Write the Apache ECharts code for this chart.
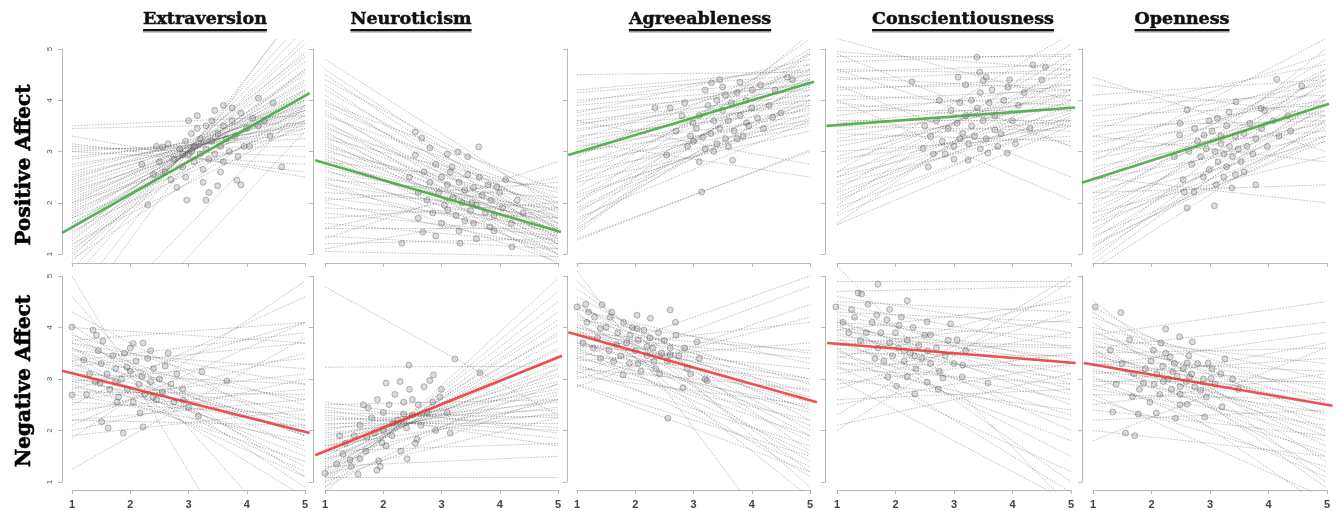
<!DOCTYPE html>
<html><head><meta charset="utf-8">
<script src="https://cdn.jsdelivr.net/npm/echarts@6/dist/echarts.min.js"></script>
<style>html,body{margin:0;padding:0;background:#fff}#c{width:1336px;height:511px}</style>
</head><body><div id="c"></div>
<script>
const traits = ['Extraversion','Neuroticism','Agreeableness','Conscientiousness','Openness'];
const rowLabels = ['Positive Affect','Negative Affect'];
const xTicks = [1,2,3,4,5];
const yTicks = [1,2,3,4,5];

// ---- Positive Affect: individual slopes [y at x=1, y at x=5] ----
const paExtLines = [[0.5,5.6],[0.7,5.4],[0.85,5.2],[0.95,5.1],[1.05,4.95],[1.15,4.85],[1.25,4.75],[1.3,4.6],[1.4,4.55],[1.5,4.5],[1.55,4.4],[1.6,4.3],[1.7,4.35],[1.75,4.2],[1.8,4.15],[1.9,4.1],[1.95,4.05],[2.0,4.2],[2.05,3.95],[2.1,3.9],[2.15,4.0],[2.2,3.85],[2.3,3.8],[2.35,3.9],[2.4,3.75],[2.5,3.7],[2.55,3.6],[2.6,3.8],[2.7,3.55],[2.75,3.45],[2.85,3.5],[2.9,3.35],[3.0,3.25],[3.05,3.1],[3.1,2.9],[3.0,2.75],[3.15,2.6],[3.3,2.5],[3.45,3.55],[3.5,3.7],[0.9,3.9],[1.2,3.55],[1.1,4.2],[1.45,3.7],[1.7,3.6],[2.0,3.45],[-0.3,6.0],[0.1,5.9],[-1.5,3.4],[-0.8,3.9],[1.35,4.9],[1.0,4.6],[1.6,4.0],[2.25,3.6],[2.45,4.0],[1.85,3.8]];
const paNeuLines = [[4.8,1.9],[4.6,1.6],[4.4,2.0],[4.3,1.3],[4.2,1.7],[4.1,1.2],[4.0,1.5],[3.9,1.8],[3.8,1.1],[3.75,1.4],[3.7,2.1],[3.6,1.0],[3.55,1.6],[3.5,1.3],[3.45,1.9],[3.4,0.8],[3.35,1.5],[3.3,1.2],[3.25,2.2],[3.2,1.0],[3.1,1.7],[3.05,1.35],[3.0,2.0],[2.95,0.9],[2.9,1.55],[2.85,1.2],[2.8,2.3],[2.7,1.6],[2.65,1.0],[2.6,1.85],[2.5,1.4],[2.45,2.1],[2.4,0.85],[2.35,1.7],[2.3,1.25],[2.2,1.9],[2.1,1.5],[2.05,2.4],[2.0,1.1],[1.9,1.7],[1.8,1.35],[1.7,2.0],[1.6,1.2],[1.5,1.5],[1.35,1.1],[1.2,1.3],[1.05,0.95],[1.3,2.8],[1.5,2.5],[1.1,1.9],[4.5,1.45],[3.95,2.25],[3.15,1.45],[2.75,1.75]];
const paAgrLines = [[4.5,4.55],[4.2,4.6],[4.15,4.5],[4.0,4.4],[3.95,4.7],[3.9,4.3],[3.8,4.2],[3.75,4.8],[3.7,4.35],[3.6,4.1],[3.55,4.0],[3.5,4.5],[3.45,3.9],[3.4,4.25],[3.3,3.8],[3.25,4.6],[3.2,4.0],[3.1,3.7],[3.05,4.4],[3.0,3.6],[2.95,4.1],[2.9,4.9],[2.8,3.55],[2.75,4.2],[2.7,3.85],[2.6,3.5],[2.5,4.7],[2.45,3.95],[2.4,3.4],[2.3,5.0],[2.2,4.3],[2.1,3.75],[2.0,5.2],[1.9,4.0],[1.8,4.6],[1.7,3.6],[1.55,5.3],[1.4,4.9],[1.3,3.0],[1.45,4.95],[3.2,2.5],[3.6,2.75],[1.27,3.03],[1.5,4.4],[1.65,4.1],[1.85,3.9],[2.0,4.45],[2.15,3.65]];
const paConLines = [[5.2,4.0],[4.9,3.1],[4.85,4.85],[4.75,4.9],[4.6,4.5],[4.55,4.7],[4.45,4.2],[4.4,4.6],[4.25,4.3],[4.2,4.45],[4.1,3.9],[4.0,4.2],[3.95,3.5],[3.85,4.1],[3.8,3.8],[3.7,4.3],[3.6,3.6],[3.55,4.0],[3.5,3.4],[3.4,3.85],[3.35,3.2],[3.25,4.1],[3.2,3.6],[3.1,3.95],[3.0,3.3],[2.9,4.2],[2.85,3.5],[2.75,4.4],[2.6,3.8],[2.5,4.6],[2.4,4.0],[2.25,4.9],[2.1,4.2],[1.95,5.1],[1.8,4.5],[1.6,4.8],[4.3,2.5],[4.0,2.05],[4.6,3.1],[2.6,5.3],[4.95,4.6],[1.57,3.5],[1.75,3.7],[1.9,3.6],[2.05,3.9],[2.2,3.75],[2.35,3.55],[2.5,3.65]];
const paOpeLines = [[4.45,3.0],[4.3,3.7],[4.1,4.4],[3.9,4.1],[3.8,4.7],[3.7,3.9],[3.55,4.3],[3.5,3.6],[3.4,4.9],[3.3,4.0],[3.2,3.7],[3.1,4.5],[3.0,3.4],[2.95,4.2],[2.85,3.8],[2.8,5.2],[2.7,3.55],[2.6,4.4],[2.55,3.9],[2.45,3.3],[2.4,4.6],[2.3,4.0],[2.2,3.6],[2.1,4.3],[2.05,3.2],[1.95,4.8],[1.9,3.8],[1.8,4.1],[1.7,3.45],[1.6,4.5],[1.5,3.7],[1.4,5.0],[1.3,4.0],[1.2,3.3],[1.1,4.6],[1.0,3.9],[0.9,4.4],[2.5,2.0],[2.2,2.35],[3.3,2.8],[1.8,2.9],[0.7,3.6],[0.8,4.1],[1.15,3.5],[1.35,3.2],[1.6,3.3]];

// ---- Negative Affect: individual slopes ----
const naExtLines = [[5.0,-2.6],[4.6,-0.5],[4.05,1.1],[4.0,3.7],[3.9,0.9],[3.8,1.6],[3.75,4.1],[3.7,2.2],[3.6,1.3],[3.55,3.2],[3.5,0.7],[3.45,1.9],[3.4,2.6],[3.3,1.5],[3.25,3.7],[3.2,2.1],[3.15,1.1],[3.1,2.9],[3.05,1.7],[3.0,2.4],[2.95,3.4],[2.9,1.4],[2.85,2.05],[2.8,4.1],[2.75,2.7],[2.7,1.8],[2.6,3.1],[2.55,2.3],[2.5,4.6],[2.4,2.8],[2.3,3.5],[2.2,2.1],[2.1,4.1],[2.0,3.0],[1.9,2.4],[1.85,4.9],[1.25,3.8],[2.2,2.6],[3.35,3.9],[3.7,2.9],[4.3,1.9],[3.85,2.5],[3.6,1.9],[2.95,2.2],[3.35,1.2]];
const naNeuLines = [[0.8,4.95],[0.9,4.7],[1.0,4.5],[1.05,4.3],[1.1,4.15],[1.15,3.9],[1.2,4.05],[1.25,3.75],[1.3,3.6],[1.35,3.85],[1.4,3.45],[1.45,3.3],[1.5,3.55],[1.55,3.2],[1.6,3.05],[1.65,3.4],[1.7,2.9],[1.75,3.1],[1.8,2.75],[1.85,2.95],[1.9,2.6],[1.95,2.45],[2.0,2.8],[2.05,2.3],[2.1,2.55],[2.15,2.15],[2.2,2.4],[2.25,2.0],[2.3,1.85],[2.35,2.25],[2.4,1.7],[2.45,2.05],[2.5,2.6],[2.55,1.95],[1.1,1.1],[1.3,1.5],[1.6,1.75],[0.9,3.2],[1.0,2.7],[1.15,2.25],[4.79,2.3],[3.23,3.25],[1.25,2.9],[1.45,2.6],[1.7,2.35]];
const naAgrLines = [[5.1,-1.0],[4.9,0.9],[4.75,1.6],[4.6,2.2],[4.5,1.2],[4.4,2.6],[4.35,3.3],[4.3,0.7],[4.25,1.9],[4.2,2.9],[4.15,3.5],[4.1,1.4],[4.05,2.4],[4.0,3.0],[3.95,1.8],[3.9,2.75],[3.85,3.4],[3.8,1.1],[3.75,2.1],[3.7,2.55],[3.65,3.2],[3.6,1.55],[3.55,2.35],[3.5,2.95],[3.45,1.9],[3.4,2.45],[3.35,3.7],[3.3,1.3],[3.25,2.2],[3.2,2.8],[3.15,1.7],[3.1,4.8],[3.05,2.5],[3.0,4.2],[2.9,1.5],[2.85,4.45],[3.6,4.1],[3.9,3.55],[3.4,5.0],[2.88,1.2],[4.45,2.0],[4.0,2.65],[3.7,3.0]];
const naConLines = [[5.2,0.5],[4.9,4.9],[4.7,4.8],[4.6,3.9],[4.5,4.3],[4.45,3.6],[4.4,2.9],[4.3,4.1],[4.25,3.3],[4.2,1.0],[4.15,2.5],[4.1,3.8],[4.05,2.0],[4.0,3.4],[3.95,4.5],[3.9,2.7],[3.85,3.1],[3.8,1.5],[3.75,3.65],[3.7,2.3],[3.65,4.15],[3.6,3.0],[3.55,1.8],[3.5,3.45],[3.45,2.6],[3.4,4.6],[3.35,2.2],[3.3,3.25],[3.25,1.2],[3.2,2.9],[3.1,3.9],[3.0,2.4],[2.9,3.5],[2.8,4.3],[2.6,2.8],[2.5,3.3],[2.3,5.0],[2.0,4.9],[2.1,3.1],[3.6,0.8],[3.0,0.6],[3.95,3.3],[3.7,3.6],[4.1,2.8]];
const naOpeLines = [[4.53,1.0],[4.4,2.0],[4.3,1.4],[4.2,2.6],[4.1,0.9],[4.0,3.0],[3.95,1.7],[3.9,2.3],[3.85,4.5],[3.8,3.3],[3.7,1.2],[3.65,2.8],[3.6,4.1],[3.55,2.0],[3.5,3.6],[3.45,2.5],[3.4,1.5],[3.35,3.15],[3.3,2.2],[3.25,3.9],[3.2,1.8],[3.15,2.7],[3.1,3.4],[3.05,1.1],[3.0,2.35],[2.95,2.95],[2.9,1.6],[2.85,3.7],[2.8,2.1],[2.7,2.6],[2.6,1.3],[2.5,3.1],[2.4,1.9],[2.2,2.4],[2.0,1.5],[1.8,3.6],[2.7,0.7],[3.6,0.5],[3.75,2.55],[3.3,2.9],[3.5,1.9]];

// ---- Observed person means [trait, affect] ----
const paExtPoints = [[2.56,3.09],[4.6,2.7],[4.45,3.95],[4.2,4.04],[2.3,1.96],[2.97,2.05],[3.3,2.05],[3.5,2.33],[3.9,2.35],[3.83,2.44],[2.6,2.6],[2.75,2.85],[2.85,3.05],[2.9,2.7],[2.95,3.2],[3.0,2.95],[3.05,3.35],[3.1,2.8],[3.1,3.1],[3.15,3.45],[3.2,2.95],[3.2,3.25],[3.25,2.65],[3.3,3.05],[3.3,3.5],[3.35,2.85],[3.4,3.2],[3.4,3.6],[3.45,2.95],[3.5,3.35],[3.55,3.1],[3.6,2.8],[3.6,3.5],[3.65,3.25],[3.7,3.0],[3.75,3.6],[3.8,3.3],[3.85,2.9],[3.9,3.75],[4.0,3.45],[4.05,3.1],[4.1,3.65],[4.3,3.6],[4.4,3.3],[2.5,2.8],[2.4,2.55],[2.65,3.15],[2.7,2.45],[2.8,2.3],[2.95,2.5],[3.0,3.6],[3.15,3.7],[3.45,3.8],[2.45,3.1],[2.2,2.75],[3.25,2.4],[3.55,2.6],[3.35,2.2],[2.9,2.95],[3.05,3.0],[3.6,3.9],[3.95,3.1],[4.2,3.5],[3.75,3.85]];
const paNeuPoints = [[2.55,3.38],[2.66,3.26],[3.64,3.09],[3.28,2.99],[2.8,3.07],[2.32,1.21],[2.68,1.43],[3.32,1.21],[4.21,1.14],[2.6,1.7],[3.83,1.53],[3.95,2.31],[3.52,2.0],[3.11,1.86],[3.18,2.7],[2.55,2.93],[2.7,2.6],[2.8,2.4],[2.9,2.75],[2.95,2.2],[3.0,2.5],[3.05,1.95],[3.1,2.35],[3.15,2.6],[3.2,2.1],[3.25,1.75],[3.3,2.4],[3.35,2.0],[3.4,2.25],[3.4,1.65],[3.45,2.55],[3.5,1.85],[3.55,2.3],[3.6,1.95],[3.65,2.5],[3.7,2.15],[3.75,1.8],[3.8,2.35],[3.85,2.05],[3.9,1.75],[4.0,2.2],[4.05,1.9],[4.1,2.45],[4.2,1.6],[4.3,2.05],[2.75,2.05],[2.85,1.8],[3.0,1.6],[3.3,1.45],[3.6,1.3],[2.45,2.5],[2.6,2.2],[3.1,2.95],[3.45,2.9],[3.9,1.45],[4.4,1.8],[2.9,1.35],[3.55,1.6]];
const paAgrPoints = [[2.34,3.85],[2.54,2.93],[3.1,2.8],[3.67,2.83],[3.31,4.34],[4.61,4.45],[3.5,4.26],[2.6,3.85],[2.99,3.56],[3.16,3.28],[3.91,3.56],[4.01,4.2],[4.36,3.67],[3.14,2.21],[3.0,3.2],[3.05,3.45],[3.1,3.7],[3.2,3.05],[3.25,3.9],[3.3,3.35],[3.35,3.6],[3.4,4.0],[3.4,3.15],[3.45,3.45],[3.5,3.8],[3.55,4.1],[3.55,3.25],[3.6,3.6],[3.65,3.95],[3.7,3.4],[3.75,4.15],[3.8,3.7],[3.85,3.3],[3.9,4.0],[3.95,3.5],[4.0,3.85],[4.1,3.65],[4.15,4.3],[4.2,3.45],[4.3,3.9],[4.4,4.2],[4.5,3.75],[4.7,4.4],[2.7,3.4],[2.8,3.7],[2.9,3.1],[2.85,3.95],[3.2,4.2],[3.35,3.0],[3.6,3.1],[3.75,3.25],[2.95,3.3],[3.45,4.4],[3.8,4.35]];
const paConPoints = [[3.39,4.84],[3.44,4.55],[3.5,4.38],[3.07,4.45],[2.28,4.36],[4.35,4.69],[4.56,4.65],[4.5,4.4],[2.56,2.7],[3.24,2.83],[3.91,2.97],[3.58,2.97],[2.47,3.06],[3.1,3.25],[3.7,3.42],[3.92,4.26],[2.6,3.3],[2.7,3.6],[2.8,3.2],[2.9,3.45],[2.95,3.8],[3.0,3.1],[3.05,3.55],[3.1,3.95],[3.15,3.35],[3.2,3.7],[3.25,3.15],[3.3,4.0],[3.3,3.5],[3.35,3.3],[3.4,3.85],[3.45,4.15],[3.5,3.6],[3.55,3.25],[3.6,3.95],[3.65,4.2],[3.7,3.7],[3.8,3.35],[3.85,4.0],[4.0,3.6],[4.1,3.9],[4.2,4.15],[4.3,3.45],[2.75,4.0],[2.85,2.95],[3.0,2.85],[3.45,3.05],[3.75,3.1],[4.05,3.15],[3.2,4.3],[3.55,4.45],[2.5,3.5],[3.95,4.4],[2.65,2.95]];
const paOpePoints = [[2.62,3.81],[3.46,3.97],[4.16,4.41],[4.59,4.28],[3.89,3.84],[3.34,3.77],[3.14,3.65],[2.49,3.32],[2.91,3.32],[3.2,3.3],[2.57,2.21],[2.74,2.21],[2.62,1.9],[3.09,1.94],[3.39,2.29],[3.8,2.35],[3.45,2.55],[3.12,2.35],[2.55,2.45],[2.65,3.0],[2.7,2.75],[2.8,3.2],[2.85,2.9],[2.95,3.05],[3.0,2.65],[3.05,3.4],[3.1,3.0],[3.15,2.8],[3.2,3.15],[3.25,2.95],[3.3,3.5],[3.3,2.7],[3.35,3.1],[3.4,2.9],[3.45,3.3],[3.5,3.05],[3.55,2.8],[3.6,3.35],[3.65,3.1],[3.7,3.55],[3.75,2.95],[3.8,3.25],[3.9,3.45],[4.0,3.1],[4.1,3.6],[4.2,3.3],[4.35,3.7],[2.4,2.9],[2.5,3.55],[2.9,2.5],[3.0,3.6],[3.25,2.5],[3.6,2.6],[3.95,3.8],[4.4,3.4],[2.75,3.45]];
const naExtPoints = [[1.0,4.01],[1.36,3.95],[1.42,3.85],[1.53,3.74],[1.0,2.69],[1.48,2.92],[1.62,2.05],[1.51,2.17],[1.88,1.95],[2.22,2.07],[2.17,2.34],[2.22,3.7],[2.05,3.69],[2.65,3.5],[3.23,3.14],[3.66,2.96],[3.17,2.28],[2.91,2.59],[2.39,2.65],[1.77,2.55],[1.75,2.95],[1.94,3.23],[1.2,3.37],[1.5,3.3],[1.6,3.1],[1.65,2.8],[1.7,3.45],[1.75,3.2],[1.8,2.65],[1.85,3.0],[1.9,3.5],[1.95,2.8],[2.0,3.15],[2.05,2.55],[2.1,3.35],[2.15,2.9],[2.2,3.05],[2.25,2.7],[2.3,3.4],[2.35,2.95],[2.4,3.2],[2.45,2.6],[2.5,3.0],[2.55,2.75],[2.6,3.25],[2.7,2.9],[2.75,2.55],[2.8,3.1],[2.9,2.8],[3.0,2.45],[1.3,3.1],[1.4,2.95],[1.25,2.7],[1.45,3.55],[2.0,3.6],[2.35,3.55]];
const naNeuPoints = [[1.0,1.17],[1.31,1.54],[1.43,1.43],[1.57,1.15],[1.89,1.23],[1.92,1.41],[1.74,2.44],[1.66,2.5],[2.05,2.92],[2.29,2.95],[2.44,3.27],[2.41,1.45],[2.58,1.83],[2.86,3.08],[2.8,2.97],[2.97,2.65],[3.23,3.39],[3.15,1.95],[3.66,3.12],[2.17,2.15],[1.98,1.76],[2.35,2.32],[1.72,1.87],[2.0,2.0],[2.5,2.6],[3.1,2.35],[1.5,1.9],[1.6,2.1],[1.7,1.6],[1.8,2.25],[1.85,1.95],[1.9,2.6],[2.0,2.35],[2.05,1.7],[2.1,2.5],[2.15,1.9],[2.2,2.7],[2.25,2.2],[2.3,1.6],[2.35,2.55],[2.4,2.05],[2.45,2.8],[2.5,2.3],[2.55,1.75],[2.6,2.5],[2.65,2.1],[2.7,2.85],[2.75,2.35],[2.85,2.55],[2.9,2.0],[3.0,2.8],[1.35,1.75],[1.45,1.3],[1.25,1.9],[1.2,1.35],[1.6,1.45],[1.95,1.3]];
const naAgrPoints = [[1.0,4.4],[1.43,4.44],[1.57,4.2],[2.03,4.24],[2.26,4.18],[2.6,4.34],[2.69,4.1],[1.79,3.08],[2.05,3.3],[2.42,3.1],[2.82,2.83],[2.56,2.24],[3.23,2.97],[3.06,3.72],[1.68,3.67],[1.91,3.85],[2.2,3.63],[1.4,3.98],[1.28,3.6],[1.63,3.34],[2.32,3.34],[2.6,3.47],[2.89,3.21],[2.03,3.98],[1.17,4.1],[1.3,4.2],[1.35,3.8],[1.5,4.0],[1.55,3.55],[1.6,4.3],[1.7,3.9],[1.75,3.45],[1.8,4.1],[1.85,3.7],[1.9,3.3],[1.95,4.0],[2.0,3.55],[2.05,3.75],[2.1,3.15],[2.15,3.95],[2.2,3.45],[2.25,3.8],[2.3,3.6],[2.35,3.2],[2.4,3.9],[2.45,3.5],[2.5,3.75],[2.55,3.35],[2.6,3.6],[2.7,3.85],[2.75,3.45],[2.85,3.6],[2.95,3.1],[3.1,3.4],[3.2,3.0],[1.1,3.7],[1.2,4.3],[1.4,3.4],[1.15,4.45]];
const naConPoints = [[0.98,4.4],[1.36,4.67],[1.42,4.65],[1.7,4.84],[2.2,4.52],[1.53,4.45],[1.9,4.35],[1.3,4.2],[1.68,4.24],[2.06,4.04],[2.54,4.11],[2.94,4.07],[3.05,3.76],[2.6,3.86],[1.87,3.04],[2.02,2.86],[2.33,2.71],[2.73,2.8],[2.54,2.94],[2.2,3.04],[2.81,3.02],[3.14,3.04],[3.15,3.27],[3.58,2.92],[1.8,3.35],[2.15,3.55],[2.33,3.45],[1.65,3.4],[1.5,3.9],[1.6,4.1],[1.7,3.6],[1.75,3.9],[1.85,4.15],[1.9,3.7],[1.95,3.45],[2.0,3.9],[2.05,3.6],[2.1,4.2],[2.15,3.35],[2.2,3.75],[2.25,3.5],[2.3,4.0],[2.35,3.2],[2.4,3.65],[2.45,3.4],[2.5,3.85],[2.55,3.55],[2.6,3.3],[2.7,3.6],[2.75,3.15],[2.85,3.45],[2.9,3.75],[3.0,3.3],[3.2,3.55],[1.2,3.9],[1.25,4.35],[1.4,3.75],[1.1,4.1]];
const naOpePoints = [[1.04,4.4],[1.48,4.29],[2.25,3.97],[2.49,3.82],[2.71,3.72],[3.27,3.39],[1.34,2.36],[1.78,2.32],[1.56,1.95],[1.72,1.9],[1.98,2.55],[2.09,2.34],[2.42,2.24],[2.92,2.26],[3.22,2.46],[2.62,2.51],[2.5,2.5],[1.68,2.66],[1.87,2.92],[2.21,2.95],[2.5,2.85],[2.85,2.78],[3.03,3.01],[2.62,3.31],[2.33,3.43],[2.04,3.56],[1.63,3.76],[2.17,3.7],[2.98,3.31],[1.3,3.56],[2.37,3.14],[2.66,3.04],[1.9,3.2],[2.0,3.35],[2.05,2.9],[2.1,3.1],[2.15,2.7],[2.2,3.25],[2.25,3.5],[2.3,3.0],[2.35,2.8],[2.4,3.3],[2.45,3.05],[2.5,2.7],[2.55,3.2],[2.6,2.95],[2.65,3.45],[2.7,3.1],[2.75,2.85],[2.8,3.3],[2.9,3.0],[2.95,2.65],[3.05,3.2],[3.1,2.9],[3.2,3.1],[1.7,3.1],[1.8,2.8],[1.5,3.3],[1.4,2.9],[3.4,3.0],[3.5,2.8]];

// ---- Fixed-effect lines [x0, y0, x1, y1] ----
const paExtFixed = [0.83,1.41,5.08,4.14];
const paNeuFixed = [0.83,2.83,5.05,1.43];
const paAgrFixed = [0.85,2.93,5.07,4.36];
const paConFixed = [0.82,3.5,5.07,3.86];
const paOpeFixed = [0.81,2.39,5.06,3.93];
const naExtFixed = [0.83,3.16,5.08,1.95];
const naNeuFixed = [0.83,1.52,5.07,3.45];
const naAgrFixed = [0.85,3.91,5.12,2.55];
const naConFixed = [0.83,3.7,5.08,3.31];
const naOpeFixed = [0.84,3.31,5.12,2.48];

const panels = [
  [ [paExtLines,paExtPoints,paExtFixed],[paNeuLines,paNeuPoints,paNeuFixed],[paAgrLines,paAgrPoints,paAgrFixed],[paConLines,paConPoints,paConFixed],[paOpeLines,paOpePoints,paOpeFixed] ],
  [ [naExtLines,naExtPoints,naExtFixed],[naNeuLines,naNeuPoints,naNeuFixed],[naAgrLines,naAgrPoints,naAgrFixed],[naConLines,naConPoints,naConFixed],[naOpeLines,naOpePoints,naOpeFixed] ]
];
const fixedColors = ['rgba(70,170,70,0.9)','rgba(235,50,50,0.85)'];

// ---- layout (pixels) ----
const colX1 = [72,325,577,837,1093];
const colX5 = [305,558,810,1071,1327];
const yAxisX = [62,313,567,825,1082];
const rowGeo = [{y5:49,y1:254,xAxisY:263},{y5:276,y1:482,xAxisY:490}];
const titleCX = [205,411,700,963,1182];
const rowLabelCY = [165,381];
const LO = 0.82, HI = 5.18;

const grid=[], xAxis=[], yAxis=[], series=[];
for (let r=0;r<2;r++){
  for (let c=0;c<5;c++){
    const g = rowGeo[r];
    const u = (colX5[c]-colX1[c])/4, v = (g.y1-g.y5)/4;
    const di = grid.length;
    grid.push({left: colX1[c]+(LO-1)*u, top: g.y5-(HI-5)*v, width:(HI-LO)*u, height:(HI-LO)*v});
    xAxis.push({gridIndex:di,type:'value',min:LO,max:HI,show:false});
    yAxis.push({gridIndex:di,type:'value',min:LO,max:HI,show:false});
    const ai = grid.length;
    grid.push({left: colX1[c], top: g.y5, width: colX5[c]-colX1[c], height: g.y1-g.y5});
    xAxis.push({gridIndex:ai,type:'value',min:xTicks[0],max:xTicks[xTicks.length-1],interval:1,position:'bottom',
      offset: g.xAxisY-g.y1,
      axisLine:{show:true,lineStyle:{color:'#b8b8b8',width:1}},
      axisTick:{show:true,length:4,lineStyle:{color:'#b8b8b8'}},
      splitLine:{show:false},
      axisLabel:{show:r===1,fontSize:11,color:'#444',fontWeight:'bold',margin:9,fontFamily:'Liberation Sans'}});
    yAxis.push({gridIndex:ai,type:'value',min:yTicks[0],max:yTicks[yTicks.length-1],interval:1,position:'left',
      offset: colX1[c]-yAxisX[c],
      axisLine:{show:true,lineStyle:{color:'#b8b8b8',width:1}},
      axisTick:{show:true,length:4,lineStyle:{color:'#b8b8b8'}},
      splitLine:{show:false},
      axisLabel:{show:c===0,fontSize:8,rotate:90,color:'#555',margin:8,fontFamily:'Liberation Sans'}});
    const [lines,pts,fx] = panels[r][c];
    series.push({type:'lines',coordinateSystem:'cartesian2d',xAxisIndex:di,yAxisIndex:di,clip:true,silent:true,
      data: lines.map(l=>({coords:[[1,l[0]],[5,l[1]]]})),
      lineStyle:{color:'rgba(90,90,90,0.4)',width:1,type:[1.5,1.4],opacity:1},z:2});
    series.push({type:'scatter',xAxisIndex:di,yAxisIndex:di,data:pts,symbolSize:6,silent:true,
      itemStyle:{color:'rgba(120,120,120,0.32)',borderColor:'rgba(70,70,70,0.45)',borderWidth:1},z:3});
    series.push({type:'line',xAxisIndex:di,yAxisIndex:di,data:[[fx[0],fx[1]],[fx[2],fx[3]]],symbol:'none',clip:true,silent:true,
      lineStyle:{color:fixedColors[r],width:2.6},z:4});
  }
}

// titles & row labels
const meas = document.createElement('canvas').getContext('2d');
const titleFont = 'bold 17.5px "DejaVu Serif"';
meas.font = titleFont;
const graphic = [];
traits.forEach((t,i)=>{
  const w = meas.measureText(t).width;
  graphic.push({type:'text',x:titleCX[i],y:19,style:{text:t,font:titleFont,fill:'#111',stroke:'#111',lineWidth:0.5,align:'center',verticalAlign:'middle',
    shadowColor:'rgba(0,0,0,0.35)',shadowOffsetX:1,shadowOffsetY:1.5,shadowBlur:1}});
  graphic.push({type:'rect',shape:{x:titleCX[i]-w/2,y:30.5,width:w,height:2},style:{fill:'#999'}});
  graphic.push({type:'rect',shape:{x:titleCX[i]-w/2,y:29,width:w,height:2},style:{fill:'#111'}});
});
rowLabels.forEach((t,i)=>{
  graphic.push({type:'text',x:25,y:rowLabelCY[i],rotation:Math.PI/2,style:{text:t,font:'bold 20px "DejaVu Serif"',fill:'#000',stroke:'#000',lineWidth:0.6,align:'center',verticalAlign:'middle'}});
});

const chart = echarts.init(document.getElementById('c'),null,{renderer:'canvas'});
chart.setOption({animation:false,backgroundColor:'#fff',grid,xAxis,yAxis,series,graphic});
</script></body></html>
